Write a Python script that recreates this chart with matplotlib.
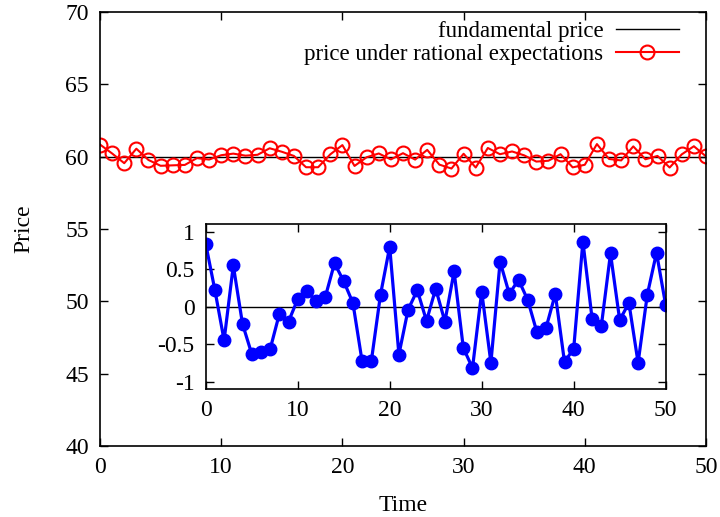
import matplotlib
matplotlib.use("Agg")
import matplotlib.pyplot as plt
import numpy as np

plt.rcParams['font.family'] = ['Liberation Serif', 'DejaVu Serif']
plt.rcParams['mathtext.fontset'] = 'stix'

time = list(range(51))
fundamental = 60.0
deviation = [0.84, 0.22, -0.45, 0.55, -0.23, -0.63, -0.60, -0.57, -0.10, -0.20,
             0.10, 0.21, 0.07, 0.13, 0.58, 0.34, 0.05, -0.73, -0.73, 0.16,
             0.80, -0.64, -0.04, 0.22, -0.19, 0.24, -0.20, 0.47, -0.55, -0.82,
             0.20, -0.75, 0.60, 0.17, 0.36, 0.09, -0.34, -0.28, 0.17, -0.74,
             -0.56, 0.87, -0.16, -0.26, 0.71, -0.18, 0.05, -0.75, 0.16, 0.72,
             0.02]
price_re = [fundamental + d for d in deviation]

main_xticks = [0, 10, 20, 30, 40, 50]
main_yticks = [40, 45, 50, 55, 60, 65, 70]
inset_yticks = [-1, -0.5, 0, 0.5, 1]
inset_yticklabels = ['-1', '-0.5', '0', '0.5', '1']

FS = 17

fig = plt.figure(figsize=(7.2, 5.17), dpi=100)
ax = fig.add_axes([100/720, 1-446/517, 606/720, 434/517])

ax.axhline(fundamental, color='black', lw=1.0, label='fundamental price')
ax.plot(time, price_re, color='red', lw=1.5, marker='o', ms=10,
        mfc='none', mec='red', mew=1.5, label='price under rational expectations')

ax.set_xlim(0, 50)
ax.set_ylim(40, 70)
ax.set_xticks(main_xticks)
ax.set_yticks(main_yticks)
ax.tick_params(direction='in', top=True, right=True, length=6, width=1,
               labelsize=FS, pad=8)
for s in ax.spines.values():
    s.set_linewidth(1.2)
ax.set_xlabel('Time', fontsize=FS, labelpad=12)
ax.set_ylabel('Price', fontsize=FS, labelpad=22)

leg = ax.legend(loc='upper right', bbox_to_anchor=(0.963, 0.991), frameon=False,
                fontsize=16.5, markerfirst=False, handlelength=2.75,
                handletextpad=0.55, borderaxespad=0.0, borderpad=0.2,
                labelspacing=0.12)

ins = fig.add_axes([205.7/720, 1-389/517, 460/720, (389-224.3)/517])
ins.axhline(0, color='black', lw=1.0)
ins.plot(time, deviation, color='blue', lw=2.3, marker='o', ms=9,
         mfc='blue', mec='blue')
ins.set_xlim(0, 50)
ins.set_ylim(-1.1, 1.1)
ins.set_xticks(main_xticks)
ins.set_yticks(inset_yticks)
ins.set_yticklabels(inset_yticklabels)
ins.tick_params(direction='in', top=True, right=True, length=6, width=1,
                labelsize=FS, pad=8)
for s in ins.spines.values():
    s.set_linewidth(1.2)

fig.savefig('out.png', dpi=100)
